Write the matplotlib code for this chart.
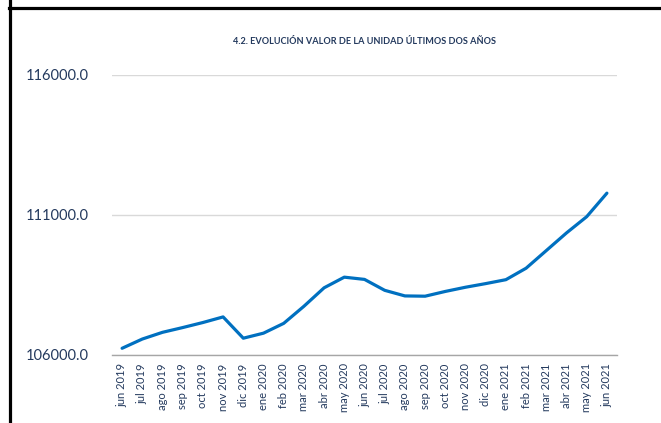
import matplotlib
matplotlib.use("Agg")
import matplotlib.pyplot as plt
from matplotlib.lines import Line2D

months = ["jun 2019", "jul 2019", "ago 2019", "sep 2019", "oct 2019", "nov 2019",
          "dic 2019", "ene 2020", "feb 2020", "mar 2020", "abr 2020", "may 2020",
          "jun 2020", "jul 2020", "ago 2020", "sep 2020", "oct 2020", "nov 2020",
          "dic 2020", "ene 2021", "feb 2021", "mar 2021", "abr 2021", "may 2021",
          "jun 2021"]
values = [106240, 106570, 106810, 106980, 107160, 107360,
          106600, 106780, 107130, 107740, 108400, 108780,
          108700, 108310, 108110, 108100, 108270, 108420,
          108550, 108690, 109100, 109730, 110360, 110940,
          111780]
yticks = [106000, 111000, 116000]
title = "4.2. EVOLUCIÓN VALOR DE LA UNIDAD ÚLTIMOS DOS AÑOS"

W, H = 661, 423
fig = plt.figure(figsize=(W / 100, H / 100), dpi=100)
fig.patch.set_facecolor("white")

left, right, top, bottom = 112, 617, 75, 355
ax = fig.add_axes([left / W, 1 - bottom / H, (right - left) / W, (bottom - top) / H])

x = list(range(len(months)))
ax.plot(x, values, color="#0070C0", linewidth=2.3, solid_joinstyle="round",
        solid_capstyle="round", zorder=3)

ax.set_xlim(-0.5, len(months) - 0.5)
ax.set_ylim(106000, 116000)
ax.set_yticks(yticks)
ax.set_yticklabels([f"{v:.1f}" for v in yticks], fontfamily="Lato", fontsize=10.5, color="#243A5E")
ax.set_xticks(x)
ax.set_xticklabels(months, rotation=90, fontfamily="Lato", fontsize=8, color="#243A5E")
ax.tick_params(axis="both", length=0)
ax.tick_params(axis="y", pad=17)
ax.tick_params(axis="x", pad=6)

ax.grid(axis="y", color="#D9D9D9", linewidth=1.0, zorder=0)
for s in ["top", "right", "left"]:
    ax.spines[s].set_visible(False)
ax.spines["bottom"].set_color("#A6A6A6")
ax.spines["bottom"].set_linewidth(1.0)
ax.set_facecolor("white")

fig.text((left + right) / 2 / W, 1 - 41 / H, title, ha="center", va="center",
         fontfamily="Lato", fontweight="bold", fontsize=6.6, color="#243A5E")

# frame lines
fig.add_artist(Line2D([9.5 / W, 9.5 / W], [0, 1], color="black", linewidth=2.3,
                      transform=fig.transFigure))
fig.add_artist(Line2D([9 / W, 1], [1 - 8 / H, 1 - 8 / H], color="black", linewidth=2.3,
                      transform=fig.transFigure))

fig.savefig("out.png", dpi=100)
